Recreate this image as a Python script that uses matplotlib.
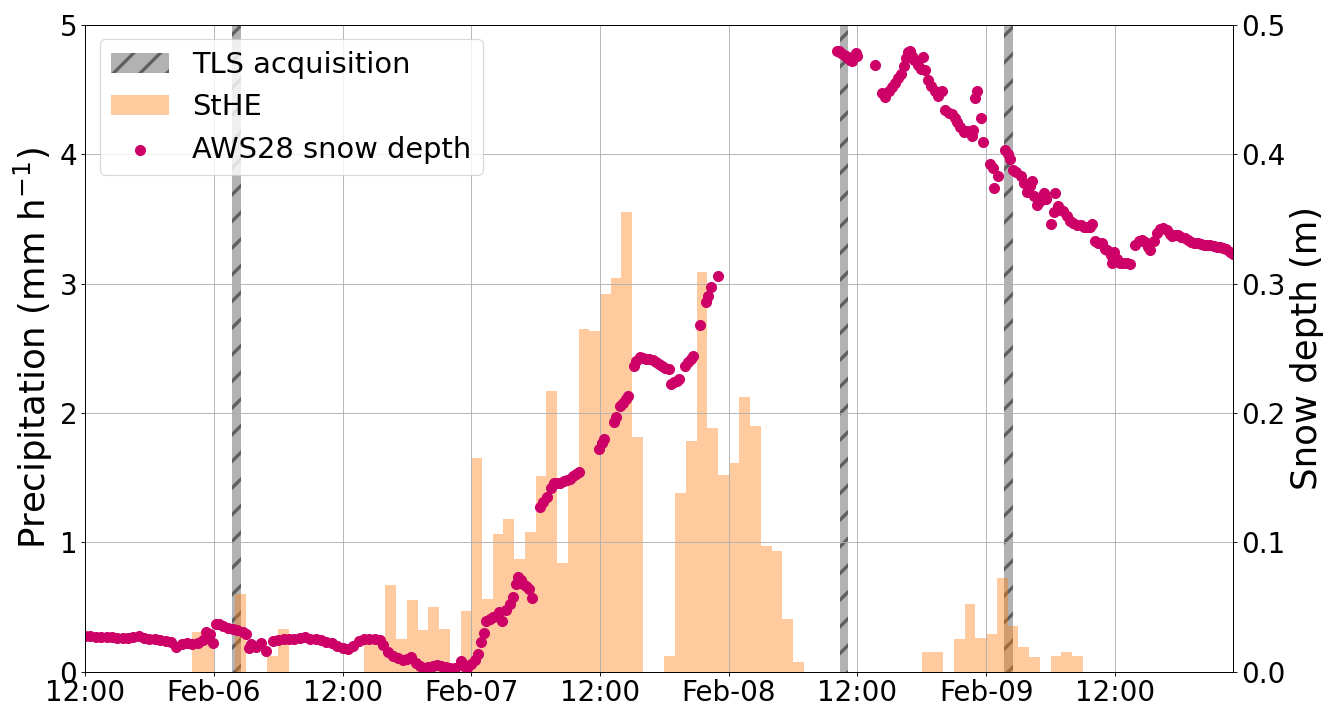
import pandas as pd
import matplotlib
matplotlib.use('Agg')
import matplotlib.pyplot as plt
import matplotlib.dates as mdates
from matplotlib.ticker import FuncFormatter

plt.rcParams['hatch.linewidth'] = 3.0

t_start = pd.Timestamp('2021-02-05 12:00')
t_end = pd.Timestamp('2021-02-09 23:00')

# StHE hourly precipitation (mm/h), first bar starts Feb-05 22:00
sthe_first = '2021-02-05 22:00'
sthe = [0.31, 0.22, 0, 0, 0.60, 0, 0, 0.12, 0.33,
        0, 0, 0, 0, 0, 0, 0,
        0.26, 0.24, 0.67, 0.25, 0.55, 0.32, 0.50, 0.33, 0, 0.47,
        1.655, 0.56, 1.065, 1.18, 0.87, 1.08, 1.51, 2.17, 0.84, 1.50,
        2.65, 2.63, 2.92, 3.04, 3.55, 1.81, 0, 0, 0.12, 1.38, 1.78, 3.09,
        1.88, 1.52, 1.61, 2.12, 1.90, 0.97, 0.93, 0.41, 0.075,
        0, 0, 0, 0, 0, 0, 0, 0, 0, 0, 0,
        0.155, 0.155, 0, 0.25, 0.52, 0.26, 0.29, 0.72, 0.35, 0.19, 0.11,
        0, 0.12, 0.15, 0.12]

# TLS acquisition windows
tls_start = ['2021-02-06 01:40', '2021-02-08 10:20', '2021-02-09 01:40']
tls_end = ['2021-02-06 02:30', '2021-02-08 11:05', '2021-02-09 02:30']

# AWS28 snow depth: hours after Feb-05 12:00, depth in m
sd_hours = [
    0, 0.5, 1, 1.5, 2, 2.5, 3, 3.5, 4, 4.5, 5, 5.5, 6, 6.5, 7, 7.5, 8, 8.5,
    9, 9.5, 10, 10.5, 11, 11.3, 11.6, 11.9, 12.2, 12.5, 12.9, 13.3, 13.8,
    14.2, 14.7, 15.0, 15.3, 15.5, 15.9, 16.4, 16.9, 17.5, 18, 18.5, 19,
    19.5, 20, 20.5, 21, 21.5, 22, 22.5, 23, 23.5, 24, 24.5, 25, 25.5, 26,
    26.5, 27, 27.5, 27.8, 28.2, 28.7, 29.2, 29.6, 30, 30.4, 30.8, 31.2,
    31.6, 32, 32.4, 32.8, 33.2, 33.6, 34, 34.5, 35, 35.3, 35.6, 36, 36.3,
    36.6, 36.9, 37.15, 37.4, 37.7, 38, 38.3, 38.6, 38.9, 39.25, 39.6, 39.9,
    40.2, 40.4, 40.6, 40.8, 41.1, 41.4, 41.7,
    42.4, 42.7, 43.1, 43.4, 43.7, 44.0, 44.3, 44.6, 44.9, 45.2, 45.5, 45.8,
    46.0,
    47.9, 48.2, 48.4, 49.3, 49.5, 49.9, 50.1, 50.4, 50.6,
    51.2, 51.4, 51.7, 52.0, 52.3, 52.6, 52.9, 53.2, 53.5, 53.8, 54.1, 54.4,
    54.6, 54.9, 55.2, 55.4,
    55.9, 56.2, 56.5, 56.7, 57.3, 57.9, 58.1, 58.3, 59.0,
    70.1, 70.3, 70.5, 70.7, 70.9, 71.1, 71.3, 71.5, 71.7, 71.9, 72.0,
    73.65, 74.3, 74.6, 74.9, 75.2, 75.5, 75.8, 76.1, 76.3, 76.5, 76.7,
    76.9, 77.1, 77.3, 77.6, 77.9, 78.15, 78.3, 78.6, 78.9, 79.2, 79.5,
    79.9, 80.2, 80.5, 80.8, 81.1, 81.3, 81.6, 81.9, 82.2, 82.5, 82.7, 82.8,
    83.0, 83.1, 83.5, 83.7, 84.4, 84.6, 84.7, 85.1, 85.8, 86.0, 86.2, 86.5,
    86.8, 87.2, 87.5, 87.8, 88.1, 88.3, 88.5, 88.7, 89.0, 89.35, 89.6, 90.0,
    90.3, 90.4, 90.7, 91.0, 91.2, 91.5, 91.8, 92.1, 92.45, 92.8, 93.1, 93.4,
    93.7, 93.85, 94.1, 94.4, 94.8, 95.1, 95.3, 95.6, 95.75, 95.9, 96.2,
    96.5, 96.8, 97.1, 97.4, 97.9, 98.2, 98.5, 98.8, 99.1, 99.3, 99.6, 99.9,
    100.2, 100.5, 100.85, 101.1, 101.3, 101.6, 101.9, 102.2, 102.5, 102.8,
    103.1, 103.4, 103.7, 104.0, 104.3, 104.6, 104.9, 105.2, 105.5, 105.8,
    106.1, 106.4, 106.7, 107.0]
sd_depth = [
    0.0275, 0.0272, 0.027, 0.027, 0.0268, 0.0265, 0.0262, 0.026, 0.026,
    0.0265, 0.0272, 0.026, 0.0252, 0.025, 0.0245, 0.024, 0.023, 0.019,
    0.021, 0.022, 0.0215, 0.022, 0.0245, 0.031, 0.029, 0.0225, 0.037,
    0.0365, 0.0355, 0.034, 0.033, 0.032, 0.0305, 0.029, 0.0185, 0.0215,
    0.019, 0.0225, 0.016, 0.024, 0.0245, 0.025, 0.025, 0.0255, 0.026,
    0.0265, 0.0255, 0.025, 0.0245, 0.023, 0.0225, 0.0195, 0.0185, 0.0175,
    0.02, 0.0235, 0.025, 0.0252, 0.025, 0.0245, 0.0205, 0.0155, 0.012,
    0.0105, 0.009, 0.0095, 0.011, 0.0065, 0.004, 0.003, 0.0035, 0.004,
    0.0055, 0.004, 0.0035, 0.003, 0.0028, 0.008, 0.004, 0.003, 0.006, 0.009,
    0.014, 0.023, 0.03, 0.039, 0.041, 0.042, 0.043, 0.046, 0.039, 0.048,
    0.052, 0.058, 0.068, 0.073, 0.071, 0.068, 0.066, 0.064, 0.057,
    0.127, 0.131, 0.135, 0.142, 0.1455, 0.146, 0.146, 0.147, 0.148, 0.149,
    0.151, 0.153, 0.154,
    0.172, 0.177, 0.180, 0.193, 0.197, 0.205, 0.208, 0.211, 0.213,
    0.236, 0.240, 0.243, 0.2425, 0.242, 0.2415, 0.241, 0.2395, 0.238, 0.236,
    0.235, 0.234,
    0.222, 0.224, 0.225, 0.226,
    0.236, 0.239, 0.242, 0.2436, 0.2676, 0.286, 0.290, 0.297, 0.3055,
    0.480, 0.480, 0.478, 0.477, 0.476, 0.474, 0.473, 0.472, 0.476, 0.478,
    0.476,
    0.469, 0.447, 0.444, 0.449, 0.452, 0.455, 0.459, 0.462, 0.468, 0.474,
    0.479, 0.480, 0.476, 0.473, 0.469, 0.466, 0.475, 0.465, 0.457, 0.453,
    0.449, 0.445, 0.449, 0.434, 0.432, 0.431, 0.428, 0.425, 0.421, 0.417,
    0.418, 0.417, 0.414, 0.419, 0.443, 0.449, 0.428, 0.409, 0.392, 0.389,
    0.374, 0.383, 0.403, 0.400, 0.396, 0.388, 0.386, 0.383, 0.378, 0.371,
    0.375, 0.379, 0.368, 0.361, 0.364, 0.370, 0.365, 0.346, 0.355, 0.370,
    0.360, 0.357, 0.356, 0.352, 0.348, 0.347, 0.345, 0.345, 0.344, 0.344,
    0.344, 0.346, 0.333, 0.331, 0.331, 0.327, 0.326, 0.322, 0.316, 0.324,
    0.319, 0.316, 0.316, 0.316, 0.315, 0.330, 0.333, 0.334, 0.332, 0.328,
    0.326, 0.333, 0.339, 0.342, 0.343, 0.341, 0.338, 0.337, 0.3375, 0.3375,
    0.336, 0.335, 0.334, 0.332, 0.3315, 0.331, 0.3305, 0.330, 0.3298,
    0.3295, 0.329, 0.3285, 0.328, 0.3275, 0.327, 0.3245, 0.323]


def fmt_date(x, pos):
    d = mdates.num2date(x)
    if d.hour == 0:
        return d.strftime('%b-%d')
    return d.strftime('%H:%M')


fig, ax1 = plt.subplots(figsize=(1330 / 80, 707 / 80), dpi=80)
fig.subplots_adjust(left=0.064, right=0.927, bottom=0.05, top=0.965)
ax2 = ax1.twinx()

# TLS windows
for i, (s, e) in enumerate(zip(tls_start, tls_end)):
    ax1.axvspan(pd.Timestamp(s), pd.Timestamp(e), facecolor='grey',
                edgecolor='#2a2a2a', alpha=0.6, hatch='/', lw=0,
                label='TLS acquisition' if i == 0 else None)

# precipitation bars
bar_times = pd.date_range(sthe_first, periods=len(sthe), freq='h')
ax1.bar(bar_times, sthe, width=1 / 24, align='edge', color='tab:orange',
        alpha=0.4, label='StHE')

# snow depth
sd_times = t_start + pd.to_timedelta(sd_hours, unit='h')
ax2.scatter(sd_times, sd_depth, s=80, color='#cc0066',
            label='AWS28 snow depth')

ax1.set_xlim(t_start, t_end)
ax1.set_ylim(0, 5)
ax2.set_ylim(0, 0.5)
ax1.xaxis.set_major_locator(mdates.HourLocator(byhour=[0, 12]))
ax1.xaxis.set_major_formatter(FuncFormatter(fmt_date))
ax1.grid(True)

ax1.set_ylabel('Precipitation (mm h$^{-1}$)', fontsize=32)
ax2.set_ylabel('Snow depth (m)', fontsize=32)
ax1.tick_params(labelsize=25)
ax2.tick_params(labelsize=25)

h1, l1 = ax1.get_legend_handles_labels()
h2, l2 = ax2.get_legend_handles_labels()
ax2.legend(h1 + h2, l1 + l2, loc='upper left', fontsize=26)

fig.savefig('out.png', dpi=80)
